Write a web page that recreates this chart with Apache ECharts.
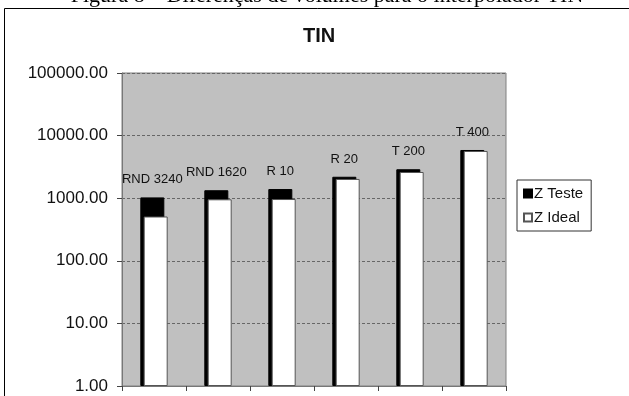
<!DOCTYPE html>
<html>
<head>
<meta charset="utf-8">
<script src="https://cdn.jsdelivr.net/npm/echarts@6/dist/echarts.min.js"></script>
<style>
html,body{margin:0;padding:0;background:#fff;}
#chart{width:629px;height:396px;}
</style>
</head>
<body>
<div id="chart"></div>
<script>
var categories = ['RND 3240', 'RND 1620', 'R 10', 'R 20', 'T 200', 'T 400'];
var zTeste = [1030, 1340, 1400, 2200, 2900, 5890];
var zIdeal = [510, 960, 970, 2030, 2620, 5680];
var yTicks = [1, 10, 100, 1000, 10000, 100000];
var captionText = 'Figura 8 – Diferenças de volumes para o interpolador TIN';
var chartTitle = 'TIN';

var chart = echarts.init(document.getElementById('chart'), null, {renderer: 'canvas'});
var font = '"Liberation Sans", Arial, sans-serif';
chart.setOption({
  animation: false,
  backgroundColor: '#ffffff',
  title: {
    text: chartTitle,
    left: 303, top: 26, padding: 0,
    textStyle: {fontFamily: font, fontWeight: 'bold', fontSize: 20, color: '#111'}
  },
  graphic: [
    {type: 'rect', z: -10, silent: true, shape: {x: 4.5, y: 8.5, width: 700, height: 500},
     style: {fill: 'none', stroke: '#000', lineWidth: 1}},
    {type: 'text', silent: true, x: 327, y: -4,
     style: {text: captionText, fontFamily: '"Liberation Serif", "Times New Roman", serif',
       fontSize: 22, fill: '#000', align: 'center', verticalAlign: 'middle'}}
  ],
  legend: {
    orient: 'vertical',
    left: 517, top: 180,
    padding: [6, 8, 6, 6],
    itemWidth: 8, itemHeight: 8, itemGap: 9,
    borderColor: '#333', borderWidth: 1,
    icon: 'rect',
    textStyle: {fontFamily: font, fontSize: 15, color: '#111', padding: [0, 0, 0, -3]},
    data: ['Z Teste', 'Z Ideal']
  },
  grid: {
    left: 122, right: 123, top: 73, bottom: 10,
    show: true, backgroundColor: '#c0c0c0', borderColor: '#808080', borderWidth: 1
  },
  xAxis: {
    type: 'category',
    data: categories,
    axisLine: {lineStyle: {color: '#777', width: 1}},
    axisTick: {show: true, interval: 0, length: 5, lineStyle: {color: '#444'}},
    axisLabel: {show: false, interval: 0},
    splitLine: {show: false}
  },
  yAxis: {
    type: 'log', logBase: 10, min: 1, max: 100000,
    axisLine: {show: true, lineStyle: {color: '#777', width: 1}},
    axisTick: {show: true, length: 5, lineStyle: {color: '#444'}},
    axisLabel: {fontFamily: font, fontSize: 17, color: '#111', margin: 14,
      formatter: function (v) { return yTicks.indexOf(v) >= 0 ? v.toFixed(2) : ''; }},
    splitLine: {show: true, lineStyle: {color: '#666', type: [3, 2], width: 1}}
  },
  series: [
    {
      name: 'Z Teste', type: 'bar', data: zTeste,
      barWidth: 24, barGap: '-86%',
      itemStyle: {color: '#000', borderColor: '#000', borderWidth: 1},
      label: {show: true, position: 'top', distance: 11, fontFamily: font, fontSize: 13, color: '#111',
        formatter: function (p) { return categories[p.dataIndex]; }},
      z: 2
    },
    {
      name: 'Z Ideal', type: 'bar', data: zIdeal,
      barWidth: 24,
      itemStyle: {color: '#fff', borderColor: '#555', borderWidth: 1},
      z: 3
    }
  ]
});
</script>
</body>
</html>
